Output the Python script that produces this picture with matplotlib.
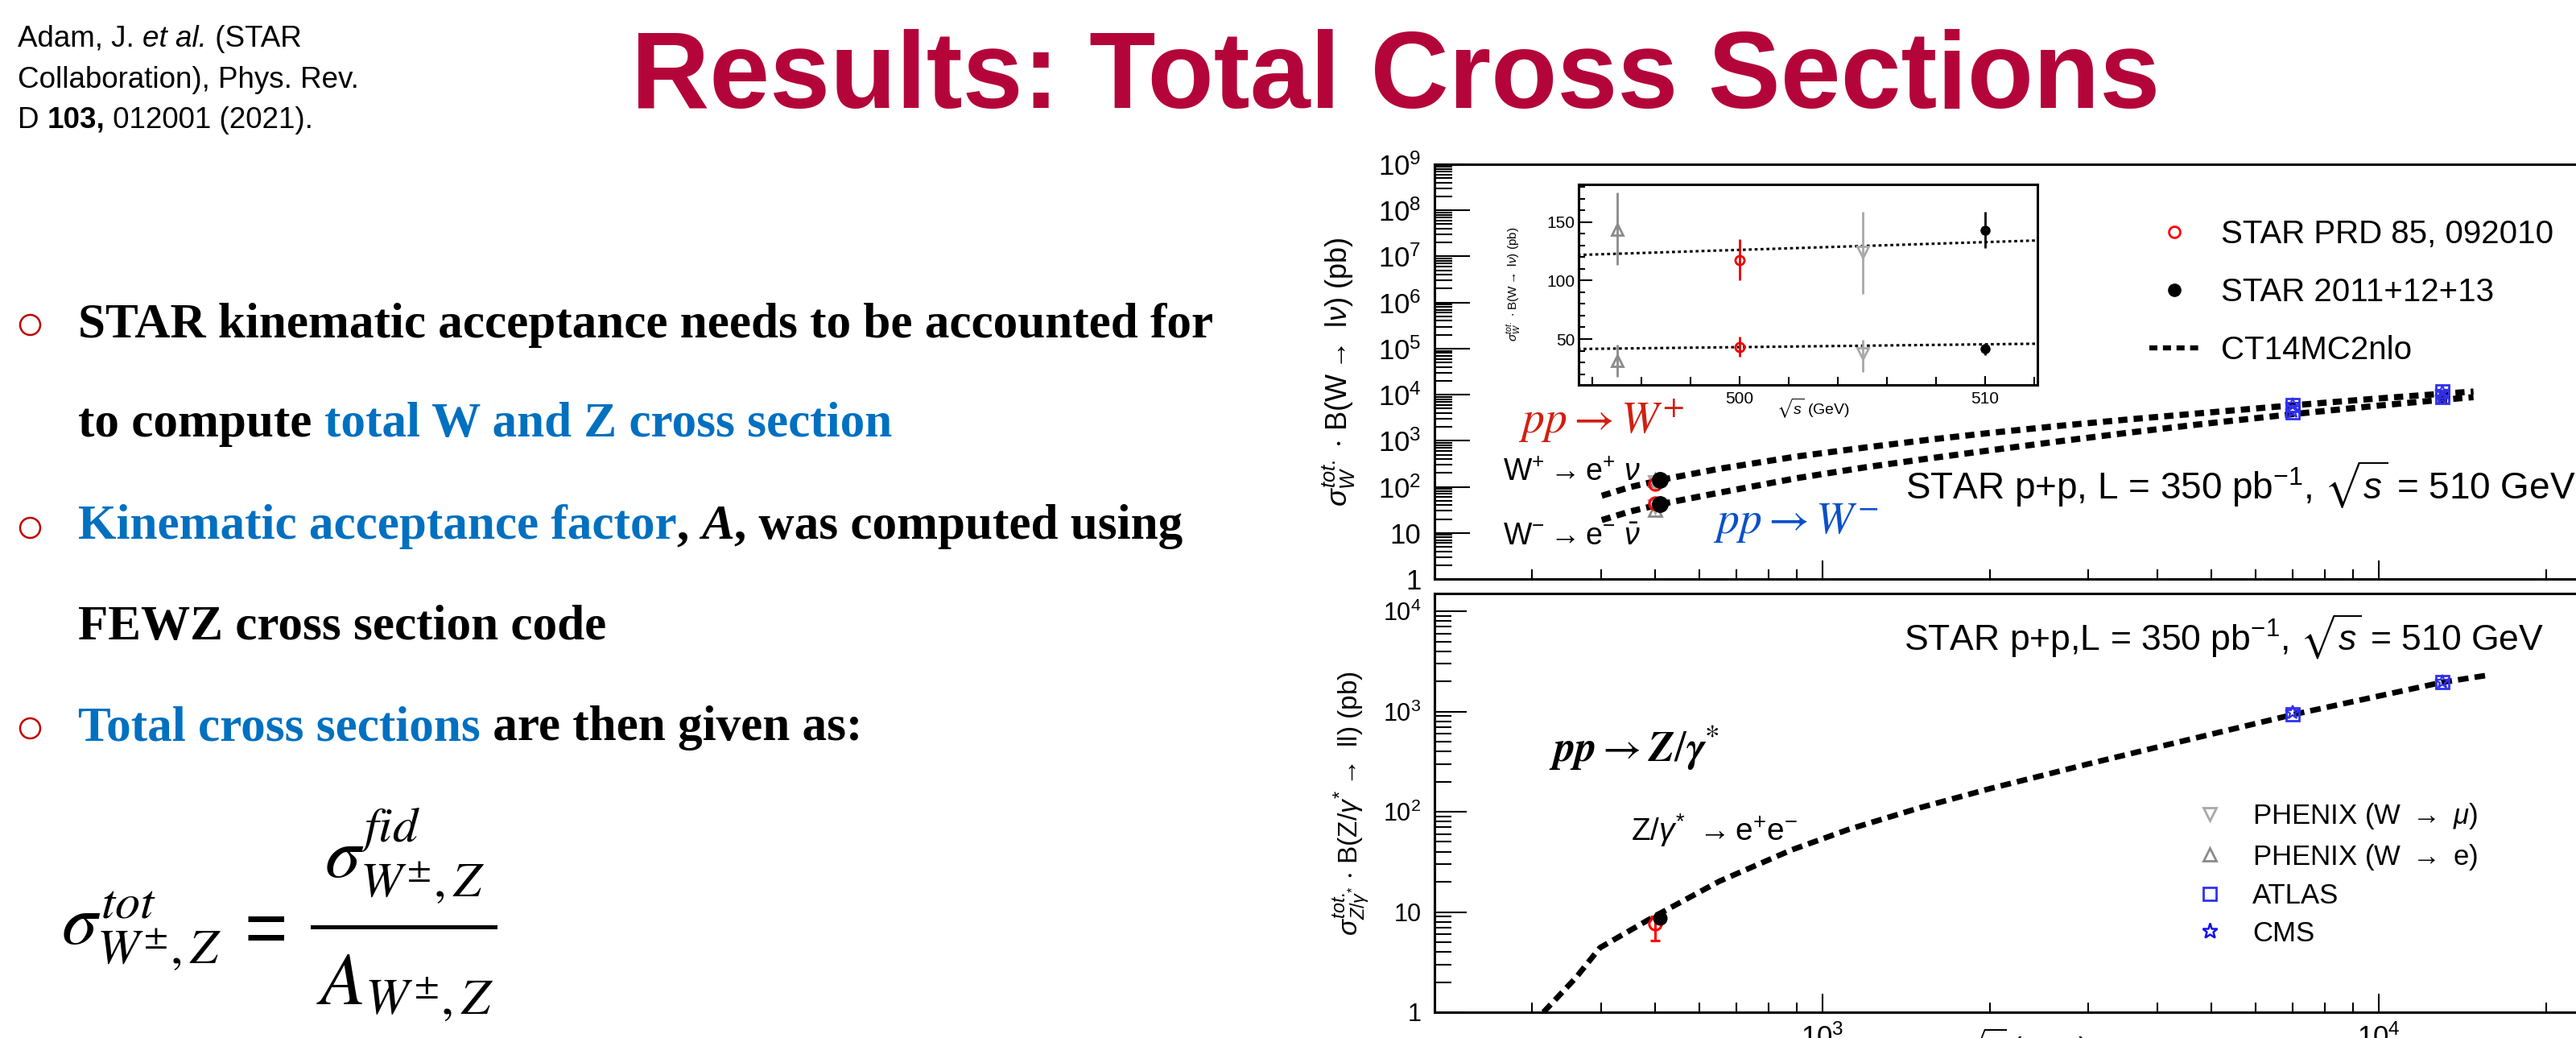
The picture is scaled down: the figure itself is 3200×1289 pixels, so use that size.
import numpy as np
import matplotlib
matplotlib.use("Agg")
import matplotlib.pyplot as plt
from matplotlib.ticker import FixedLocator, FuncFormatter, NullFormatter, MultipleLocator
from matplotlib.lines import Line2D

plt.rcParams["font.family"] = ["Liberation Sans", "DejaVu Sans"]
plt.rcParams["mathtext.fontset"] = "custom"
plt.rcParams["mathtext.rm"] = "Liberation Sans"
plt.rcParams["mathtext.it"] = "Liberation Sans:italic"
plt.rcParams["mathtext.bf"] = "Liberation Sans:bold"
plt.rcParams["mathtext.sf"] = "Liberation Sans"
plt.rcParams["mathtext.fallback"] = "stix"

# ---------------------------------------------------------------- data
# CT14MC2nlo predictions vs. sqrt(s) (GeV), cross section x branching ratio (pb)
theory_w_sqrt_s = [401, 450, 516, 650, 898, 1200, 1560, 2000, 2713, 3600, 4710, 7030, 10000, 12900, 14800]
theory_wp = [64, 98, 144, 245, 455, 720, 1060, 1480, 2150, 2950, 3900, 5900, 8300, 10400, 11700]
theory_wm = [19, 29, 43, 74, 154, 268, 416, 620, 1000, 1528, 2240, 3800, 5800, 7690, 8830]
theory_z_sqrt_s = [315, 360, 398, 498, 653, 879, 1113, 1500, 2000, 3000, 4000, 7000, 13000, 15700]
theory_z = [1.0, 2.2, 4.4, 9.0, 20.3, 41.5, 66.5, 110, 170, 299, 441, 929, 1954, 2300]

# RHIC measurements: PHENIX (W->e), STAR PRD 85, PHENIX (W->mu), STAR 2011+12+13
rhic_sqrt_s = [500, 500, 500, 510]
inset_sqrt_s = [495.0, 500.0, 505.0, 510.0]
wp_val = [143.6, 117.3, 124.0, 143.0]
wp_err_lo = [30.6, 17.3, 35.4, 15.0]
wp_err_hi = [31.4, 18.2, 35.0, 16.0]
wm_val = [31.4, 43.3, 37.3, 41.6]
wm_err_lo = [13.4, 8.3, 15.3, 5.6]
wm_err_hi = [13.6, 8.7, 12.2, 3.4]
z_sqrt_s = [500, 510]
z_val = [7.6, 8.7]
z_err_lo = [2.4, 0.6]
z_err_hi = [1.4, 0.6]

# inset theory lines (pb) at the inset x-range ends
inset_theory_x = [493.4, 512.1]
inset_theory_wp = [121.8, 134.2]
inset_theory_wm = [41.5, 46.0]

# LHC measurements at 7 and 13 TeV
lhc_sqrt_s = [7000, 13000]
atlas_wp = [6048, 11830]
atlas_wm = [4160, 8790]
cms_wp = [6040, 11370]
cms_wm = [4260, 8580]
atlas_z = [937, 1981]
cms_z = [974, 1952]

# ---------------------------------------------------------------- figure
W, H = 3200, 1289
fig = plt.figure(figsize=(W / 100, H / 100), dpi=100)


def fx(x):
    return x / W


def fy(y):
    return 1 - y / H


RED_T = "#B4053A"
BLUE_T = "#0070C0"
GRAY = "#8a8a8a"
LGRAY = "#a8a8a8"
LHC_BLUE = "#3030F0"

# ---------------------------------------------------------------- title & citation
fig.text(fx(1734), fy(134), "Results: Total Cross Sections", ha="center", va="baseline",
         fontsize=97, fontweight="bold", color=RED_T)


def runs(x, y, pieces, **common):
    """Draw consecutive text pieces on one baseline, each with its own style."""
    r = fig.canvas.get_renderer()
    cx = x
    for s, kw in pieces:
        opts = dict(common)
        opts.update(kw)
        t = fig.text(fx(cx), fy(y), s, ha="left", va="baseline", **opts)
        bb = t.get_window_extent(renderer=r)
        cx = bb.x1
    return cx


runs(22, 58, [("Adam, J. ", {}), ("et al.", {"style": "italic"}), (" (STAR", {})], fontsize=26.5)
runs(22, 109, [("Collaboration), Phys. Rev.", {})], fontsize=26.5)
runs(22, 159, [("D ", {}), ("103,", {"fontweight": "bold"}), (" 012001 (2021).", {})], fontsize=26.5)

# ---------------------------------------------------------------- bullets
serif = dict(family="Liberation Serif", fontweight="bold", fontsize=44)
for by in [403, 655, 904]:
    fig.add_artist(Line2D([fx(37)], [fy(by)], marker="o", ms=18, mfc="none", mec="#C00000",
                          mew=1.8, transform=fig.transFigure))

runs(97, 419, [("STAR kinematic acceptance needs to be accounted for", {})], **serif)
runs(97, 542, [("to compute ", {}), ("total W and Z cross section", {"color": BLUE_T})], **serif)
runs(97, 669, [("Kinematic acceptance factor", {"color": BLUE_T}), (", ", {}),
               ("A", {"style": "italic"}), (", was computed using", {})], **serif)
runs(97, 794, [("FEWZ cross section code", {})], **serif)
runs(97, 919, [("Total cross sections", {"color": BLUE_T}), (" are then given as:", {})], **serif)

# formula
fsz = 64
fig.text(fx(76), fy(1173), r"$\sigma^{tot}_{W^{\pm},Z}$", fontsize=fsz, math_fontfamily="stix",
         ha="left", va="baseline")
fig.text(fx(330), fy(1151), "=", fontsize=66, ha="center", va="center_baseline")
fig.text(fx(403), fy(1090), r"$\sigma^{fid}_{W^{\pm},Z}$", fontsize=fsz, math_fontfamily="stix",
         ha="left", va="baseline")
fig.text(fx(393), fy(1247), r"$A_{W^{\pm},Z}$", fontsize=fsz + 2, math_fontfamily="stix",
         ha="left", va="baseline")
fig.add_artist(Line2D([fx(388), fx(615)], [fy(1150.5), fy(1150.5)], color="black", lw=3.6,
                      transform=fig.transFigure))

# ---------------------------------------------------------------- main panels
ax_left, ax_right = 1782, 3200
xlim = (10 ** (3 - (2264 - ax_left) / 691), 10 ** (3 + (ax_right - 2264) / 691))

ax_w = fig.add_axes([fx(ax_left), fy(719), (ax_right - ax_left) / W, (719 - 204) / H])
ax_z = fig.add_axes([fx(ax_left), fy(1257), (ax_right - ax_left) / W, (1257 - 737) / H])


def log_label(v, pos):
    e = int(round(np.log10(v)))
    if e == 0:
        return "1"
    if e == 1:
        return "10"
    return r"$10^{%d}$" % e


x_minor = [m * 10 ** k for k in (2, 3) for m in range(2, 10) if m * 10 ** k > 200] + [20000]
for ax, ytop, ylen, ymin_len, lsize in [(ax_w, 1e9, 32, 16, 25), (ax_z, 10 ** 4.177, 29, 15, 22)]:
    ax.set_xscale("log")
    ax.set_yscale("log")
    ax.set_xlim(*xlim)
    ax.set_ylim(1, ytop)
    ax.spines["right"].set_visible(False)
    for s in ("left", "bottom", "top"):
        ax.spines[s].set_linewidth(2.2)
    ax.xaxis.set_major_locator(FixedLocator([1e3, 1e4]))
    ax.xaxis.set_minor_locator(FixedLocator(x_minor))
    ax.xaxis.set_minor_formatter(NullFormatter())
    nmax = int(round(np.log10(ytop)))
    ax.yaxis.set_major_locator(FixedLocator([10 ** k for k in range(0, nmax + 1)]))
    ax.yaxis.set_minor_locator(FixedLocator([m * 10 ** k for k in range(0, nmax + 1)
                                             for m in range(2, 10) if m * 10 ** k < ytop]))
    ax.yaxis.set_major_formatter(FuncFormatter(log_label))
    ax.yaxis.set_minor_formatter(NullFormatter())
    ax.tick_params(axis="x", which="major", direction="in", length=16.5, width=1.5,
                   top=False, labelsize=25, pad=10)
    ax.tick_params(axis="x", which="minor", direction="in", length=8.6, width=1.5, top=False)
    ax.tick_params(axis="y", which="major", direction="in", length=ylen, width=1.5,
                   right=False, labelsize=lsize, pad=12)
    ax.tick_params(axis="y", which="minor", direction="in", length=ymin_len, width=1.5, right=False)

ax_w.xaxis.set_major_formatter(NullFormatter())
ax_z.xaxis.set_major_formatter(FuncFormatter(log_label))

dash = (0, (1.5, 1.0))
ax_w.plot(theory_w_sqrt_s, theory_wp, color="black", lw=5.5, ls=dash, zorder=2)
ax_w.plot(theory_w_sqrt_s, theory_wm, color="black", lw=5.5, ls=dash, zorder=2)
ax_z.plot(theory_z_sqrt_s, theory_z, color="black", lw=5.0, ls=(0, (1.9, 1.1)), zorder=2)

# RHIC points on the W panel
for vals in (wp_val, wm_val):
    ax_w.plot(rhic_sqrt_s[0], vals[0], ls="none", marker="^", ms=12, mfc="none", mec=GRAY, mew=2, zorder=3)
    ax_w.plot(rhic_sqrt_s[2], vals[2], ls="none", marker="v", ms=12, mfc="none", mec=LGRAY, mew=2, zorder=3)
    ax_w.plot(rhic_sqrt_s[1], vals[1], ls="none", marker="o", ms=11, mfc="none", mec="red", mew=2.2, zorder=4)
    ax_w.plot(rhic_sqrt_s[3], vals[3], ls="none", marker="o", ms=14, color="black", zorder=5)

# LHC points
for vals in (atlas_wp, atlas_wm):
    ax_w.plot(lhc_sqrt_s, vals, ls="none", marker="s", ms=11, mfc="none", mec=LHC_BLUE, mew=2, zorder=4)
for vals in (cms_wp, cms_wm):
    ax_w.plot(lhc_sqrt_s, vals, ls="none", marker="*", ms=13, mfc="none", mec=LHC_BLUE, mew=1.6, zorder=4)
ax_z.plot(lhc_sqrt_s, atlas_z, ls="none", marker="s", ms=11, mfc="none", mec=LHC_BLUE, mew=2, zorder=4)
ax_z.plot(lhc_sqrt_s, cms_z, ls="none", marker="*", ms=13, mfc="none", mec=LHC_BLUE, mew=1.6, zorder=4)

# STAR Z points
ax_z.errorbar(z_sqrt_s[0], z_val[0], yerr=[[z_err_lo[0]], [z_err_hi[0]]], fmt="o", ms=11, mfc="none",
              mec="red", mew=2.2, ecolor="red", elinewidth=2.2, capsize=4, capthick=2.2, zorder=4)
ax_z.errorbar(z_sqrt_s[1], z_val[1], yerr=[[z_err_lo[1]], [z_err_hi[1]]], fmt="o", ms=12,
              color="black", elinewidth=2, zorder=5)

# annotations, W panel
ax_w.text(fx(1886), fy(538), r"$pp \rightarrow W^{+}$", transform=fig.transFigure, fontsize=40,
          math_fontfamily="stix", color="#D02010", ha="left", va="baseline")
ax_w.text(fx(2128), fy(662), r"$pp \rightarrow W^{-}$", transform=fig.transFigure, fontsize=40,
          math_fontfamily="stix", color="#0A50C8", ha="left", va="baseline")
ax_w.text(fx(1867), fy(597), r"W$^{+}\rightarrow$e$^{+}$ $\nu$", transform=fig.transFigure,
          fontsize=27, ha="left", va="baseline")
ax_w.text(fx(1867), fy(677), r"W$^{-}\rightarrow$e$^{-}$ $\bar{\nu}$", transform=fig.transFigure,
          fontsize=27, ha="left", va="baseline")
ax_w.text(fx(2367), fy(620), r"STAR p+p, L = 350 pb$^{-1}$, $\sqrt{s}$ = 510 GeV",
          transform=fig.transFigure, fontsize=33, ha="left", va="baseline")

# annotations, Z panel
ax_z.text(fx(1924), fy(946), r"$\mathbfit{pp} \rightarrow \mathbfit{Z}/\mathbfit{\gamma}^{*}$",
          transform=fig.transFigure, fontsize=38, math_fontfamily="stix", ha="left", va="baseline")
ax_z.text(fx(2026), fy(1044), r"Z/$\gamma^{*}$ $\rightarrow$e$^{+}$e$^{-}$", transform=fig.transFigure,
          fontsize=28, ha="left", va="baseline")
ax_z.text(fx(2365), fy(808), r"STAR p+p,L = 350 pb$^{-1}$, $\sqrt{s}$ = 510 GeV",
          transform=fig.transFigure, fontsize=32, ha="left", va="baseline")

# axis titles
fig.text(fx(1663), fy(462), r"$\sigma^{tot.}_{W}$ $\cdot$ B(W$\rightarrow$ l$\nu$) (pb)",
         rotation=90, ha="center", va="center", fontsize=26)
fig.text(fx(1678), fy(997), r"$\sigma^{tot.}_{Z/\gamma^{*}}$ $\cdot$ B(Z/$\gamma^{*}\rightarrow$ ll) (pb)",
         rotation=90, ha="center", va="center", fontsize=24)
fig.text(fx(2432), fy(1275), r"$\sqrt{s}$ (GeV)", ha="left", va="top", fontsize=25)

# legends
leg_w = [
    Line2D([], [], ls="none", marker="o", ms=10, mfc="none", mec="red", mew=2),
    Line2D([], [], ls="none", marker="o", ms=11, color="black"),
    Line2D([], [], color="black", lw=4.5, ls=(0, (1.6, 1.1))),
]
ax_w.legend(leg_w, ["STAR PRD 85, 092010", "STAR 2011+12+13", "CT14MC2nlo"], loc="upper left",
            bbox_to_anchor=(fx(2670), fy(272)), bbox_transform=fig.transFigure, frameon=False,
            fontsize=29, handlelength=1.55, handletextpad=0.67, labelspacing=0.85,
            borderpad=0, borderaxespad=0)

leg_z = [
    Line2D([], [], ls="none", marker="v", ms=12, mfc="none", mec=LGRAY, mew=2),
    Line2D([], [], ls="none", marker="^", ms=12, mfc="none", mec=GRAY, mew=2),
    Line2D([], [], ls="none", marker="s", ms=11, mfc="none", mec=LHC_BLUE, mew=2),
    Line2D([], [], ls="none", marker="*", ms=14, mfc="none", mec="#1010F0", mew=1.8),
]
ax_z.legend(leg_z, [r"PHENIX (W $\rightarrow$ $\mu$)", r"PHENIX (W $\rightarrow$ e)", "ATLAS", "CMS"],
            loc="upper left", bbox_to_anchor=(fx(2724), fy(995)), bbox_transform=fig.transFigure,
            frameon=False, fontsize=25, handlelength=1.2, handletextpad=0.94, labelspacing=0.39,
            borderpad=0, borderaxespad=0)

# ---------------------------------------------------------------- inset
ax_in = fig.add_axes([fx(1961), fy(478), (2531 - 1961) / W, (478 - 229) / H])
ax_in.set_facecolor("white")
ax_in.set_xlim(493.44, 512.13)
ax_in.set_ylim(10.8, 182.1)
for s in ax_in.spines.values():
    s.set_linewidth(2.2)
ax_in.xaxis.set_major_locator(FixedLocator([500, 510]))
ax_in.xaxis.set_minor_locator(MultipleLocator(2))
ax_in.yaxis.set_major_locator(FixedLocator([50, 100, 150]))
ax_in.yaxis.set_minor_locator(MultipleLocator(10))
ax_in.tick_params(which="both", direction="in", top=False, right=False, width=1.5)
ax_in.tick_params(axis="y", which="major", length=12, labelsize=15, pad=3)
ax_in.tick_params(axis="y", which="minor", length=6)
ax_in.tick_params(axis="x", which="major", length=8, labelsize=15, pad=6)
ax_in.tick_params(axis="x", which="minor", length=7)

ax_in.plot(inset_theory_x, inset_theory_wp, color="black", lw=2.2, ls=(0, (1.2, 1.2)))
ax_in.plot(inset_theory_x, inset_theory_wm, color="black", lw=2.2, ls=(0, (1.2, 1.2)))

styles = [
    dict(fmt="^", ms=10, mfc="none", mec=GRAY, mew=2, ecolor=GRAY),
    dict(fmt="o", ms=8, mfc="none", mec="#EE0000", mew=2, ecolor="#EE0000"),
    dict(fmt="v", ms=10, mfc="none", mec=LGRAY, mew=2, ecolor=LGRAY),
    dict(fmt="o", ms=8, mfc="black", mec="black", ecolor="black"),
]
for i, st in enumerate(styles):
    for vals, lo, hi in ((wp_val, wp_err_lo, wp_err_hi), (wm_val, wm_err_lo, wm_err_hi)):
        ax_in.errorbar(inset_sqrt_s[i], vals[i], yerr=[[lo[i]], [hi[i]]], elinewidth=2,
                       capsize=0, **st)

fig.text(fx(1880), fy(353), r"$\sigma^{tot.}_{W}$ $\cdot$ B(W$\rightarrow$ l$\nu$) (pb)",
         rotation=90, ha="center", va="center", fontsize=11)
fig.text(fx(2207), fy(507), r"$\sqrt{s}$ (GeV)", ha="left", va="center", fontsize=14)

fig.savefig("out.png", dpi=100)
